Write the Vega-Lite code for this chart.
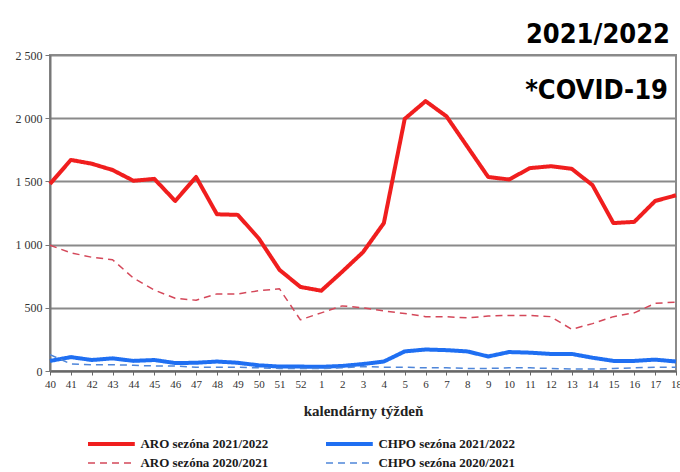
{
  "$schema": "https://vega.github.io/schema/vega-lite/v6.json",
  "width": 626,
  "height": 316,
  "autosize": {"type": "none"},
  "padding": {"left": 50, "top": 55, "right": 4, "bottom": 101},
  "background": "white",
  "config": {"view": {"stroke": "#8a8a8a", "strokeWidth": 2}, "font": "Liberation Serif"},
  "title": {"text": "2021/2022", "anchor": "end", "frame": "group", "font": "DejaVu Sans Condensed, Liberation Sans Narrow, DejaVu Sans", "fontWeight": "bold", "fontSize": 27, "color": "#000000", "offset": 0, "dx": -6},
  "data": {"values": [
    {"week": "40", "ARO sezóna 2021/2022": 1480, "CHPO sezóna 2021/2022": 80, "ARO sezóna 2020/2021": 995, "CHPO sezóna 2020/2021": 130},
    {"week": "41", "ARO sezóna 2021/2022": 1670, "CHPO sezóna 2021/2022": 110, "ARO sezóna 2020/2021": 935, "CHPO sezóna 2020/2021": 55},
    {"week": "42", "ARO sezóna 2021/2022": 1640, "CHPO sezóna 2021/2022": 87, "ARO sezóna 2020/2021": 900, "CHPO sezóna 2020/2021": 50},
    {"week": "43", "ARO sezóna 2021/2022": 1590, "CHPO sezóna 2021/2022": 100, "ARO sezóna 2020/2021": 880, "CHPO sezóna 2020/2021": 50},
    {"week": "44", "ARO sezóna 2021/2022": 1505, "CHPO sezóna 2021/2022": 80, "ARO sezóna 2020/2021": 735, "CHPO sezóna 2020/2021": 45},
    {"week": "45", "ARO sezóna 2021/2022": 1520, "CHPO sezóna 2021/2022": 87, "ARO sezóna 2020/2021": 640, "CHPO sezóna 2020/2021": 40},
    {"week": "46", "ARO sezóna 2021/2022": 1345, "CHPO sezóna 2021/2022": 63, "ARO sezóna 2020/2021": 575, "CHPO sezóna 2020/2021": 40},
    {"week": "47", "ARO sezóna 2021/2022": 1535, "CHPO sezóna 2021/2022": 65, "ARO sezóna 2020/2021": 560, "CHPO sezóna 2020/2021": 30},
    {"week": "48", "ARO sezóna 2021/2022": 1240, "CHPO sezóna 2021/2022": 75, "ARO sezóna 2020/2021": 610, "CHPO sezóna 2020/2021": 30},
    {"week": "49", "ARO sezóna 2021/2022": 1235, "CHPO sezóna 2021/2022": 65, "ARO sezóna 2020/2021": 610, "CHPO sezóna 2020/2021": 30},
    {"week": "50", "ARO sezóna 2021/2022": 1050, "CHPO sezóna 2021/2022": 45, "ARO sezóna 2020/2021": 635, "CHPO sezóna 2020/2021": 25},
    {"week": "51", "ARO sezóna 2021/2022": 800, "CHPO sezóna 2021/2022": 35, "ARO sezóna 2020/2021": 650, "CHPO sezóna 2020/2021": 20},
    {"week": "52", "ARO sezóna 2021/2022": 665, "CHPO sezóna 2021/2022": 35, "ARO sezóna 2020/2021": 405, "CHPO sezóna 2020/2021": 20},
    {"week": "1", "ARO sezóna 2021/2022": 635, "CHPO sezóna 2021/2022": 33, "ARO sezóna 2020/2021": 460, "CHPO sezóna 2020/2021": 20},
    {"week": "2", "ARO sezóna 2021/2022": 785, "CHPO sezóna 2021/2022": 40, "ARO sezóna 2020/2021": 515, "CHPO sezóna 2020/2021": 25},
    {"week": "3", "ARO sezóna 2021/2022": 940, "CHPO sezóna 2021/2022": 55, "ARO sezóna 2020/2021": 500, "CHPO sezóna 2020/2021": 35},
    {"week": "4", "ARO sezóna 2021/2022": 1170, "CHPO sezóna 2021/2022": 75, "ARO sezóna 2020/2021": 475, "CHPO sezóna 2020/2021": 30},
    {"week": "5", "ARO sezóna 2021/2022": 1995, "CHPO sezóna 2021/2022": 155, "ARO sezóna 2020/2021": 455, "CHPO sezóna 2020/2021": 30},
    {"week": "6", "ARO sezóna 2021/2022": 2135, "CHPO sezóna 2021/2022": 170, "ARO sezóna 2020/2021": 430, "CHPO sezóna 2020/2021": 25},
    {"week": "7", "ARO sezóna 2021/2022": 2015, "CHPO sezóna 2021/2022": 165, "ARO sezóna 2020/2021": 430, "CHPO sezóna 2020/2021": 25},
    {"week": "8", "ARO sezóna 2021/2022": 1775, "CHPO sezóna 2021/2022": 155, "ARO sezóna 2020/2021": 420, "CHPO sezóna 2020/2021": 20},
    {"week": "9", "ARO sezóna 2021/2022": 1535, "CHPO sezóna 2021/2022": 115, "ARO sezóna 2020/2021": 435, "CHPO sezóna 2020/2021": 20},
    {"week": "10", "ARO sezóna 2021/2022": 1515, "CHPO sezóna 2021/2022": 150, "ARO sezóna 2020/2021": 440, "CHPO sezóna 2020/2021": 25},
    {"week": "11", "ARO sezóna 2021/2022": 1605, "CHPO sezóna 2021/2022": 145, "ARO sezóna 2020/2021": 440, "CHPO sezóna 2020/2021": 25},
    {"week": "12", "ARO sezóna 2021/2022": 1620, "CHPO sezóna 2021/2022": 135, "ARO sezóna 2020/2021": 430, "CHPO sezóna 2020/2021": 20},
    {"week": "13", "ARO sezóna 2021/2022": 1600, "CHPO sezóna 2021/2022": 135, "ARO sezóna 2020/2021": 330, "CHPO sezóna 2020/2021": 15},
    {"week": "14", "ARO sezóna 2021/2022": 1470, "CHPO sezóna 2021/2022": 105, "ARO sezóna 2020/2021": 375, "CHPO sezóna 2020/2021": 15},
    {"week": "15", "ARO sezóna 2021/2022": 1170, "CHPO sezóna 2021/2022": 80, "ARO sezóna 2020/2021": 430, "CHPO sezóna 2020/2021": 20},
    {"week": "16", "ARO sezóna 2021/2022": 1180, "CHPO sezóna 2021/2022": 80, "ARO sezóna 2020/2021": 460, "CHPO sezóna 2020/2021": 25},
    {"week": "17", "ARO sezóna 2021/2022": 1345, "CHPO sezóna 2021/2022": 90, "ARO sezóna 2020/2021": 535, "CHPO sezóna 2020/2021": 30},
    {"week": "18", "ARO sezóna 2021/2022": 1390, "CHPO sezóna 2021/2022": 75, "ARO sezóna 2020/2021": 545, "CHPO sezóna 2020/2021": 30}
  ]},
  "layer": [
    {
      "transform": [{"fold": ["ARO sezóna 2021/2022", "CHPO sezóna 2021/2022", "ARO sezóna 2020/2021", "CHPO sezóna 2020/2021"], "as": ["series", "value"]}],
      "mark": {"type": "line", "strokeJoin": "round", "strokeCap": "butt"},
      "encoding": {
        "x": {
          "field": "week", "type": "ordinal",
          "scale": {"domain": ["40","41","42","43","44","45","46","47","48","49","50","51","52","1","2","3","4","5","6","7","8","9","10","11","12","13","14","15","16","17","18"], "padding": 0},
          "axis": {"labelAngle": 0, "labelFontSize": 11, "labelColor": "#333333", "labelPadding": 3, "tickSize": 4, "tickColor": "#666666", "domainColor": "#666666", "domainWidth": 2, "grid": false, "title": "kalendárny týždeň", "titleFontSize": 15, "titleFontWeight": "bold", "titleColor": "#222222", "titlePadding": 14, "labelOverlap": false}
        },
        "y": {
          "field": "value", "type": "quantitative",
          "scale": {"domain": [0, 2500], "nice": false},
          "axis": {"values": [0, 500, 1000, 1500, 2000, 2500], "labelExpr": "replace(format(datum.value, ','), ',', ' ')", "labelFontSize": 12, "labelColor": "#333333", "labelPadding": 3, "tickSize": 5, "tickColor": "#777777", "domainColor": "#777777", "domainWidth": 2, "grid": true, "gridColor": "#8a8a8a", "gridWidth": 2, "title": null}
        },
        "color": {
          "field": "series", "type": "nominal",
          "scale": {"domain": ["ARO sezóna 2021/2022", "CHPO sezóna 2021/2022", "ARO sezóna 2020/2021", "CHPO sezóna 2020/2021"], "range": ["#f01e1e", "#1f6ff2", "#d4485a", "#4f86d9"]},
          "legend": {"orient": "none", "direction": "horizontal", "legendX": 38, "legendY": 378, "columns": 2, "title": null, "padding": 0, "symbolType": "M-2.6,0H2.6", "symbolSize": 324, "symbolOffset": 12.4, "labelFont": "Liberation Serif", "labelFontWeight": "bold", "labelFontSize": 13, "labelColor": "#1a1a1a", "labelOffset": 18, "columnPadding": 48, "rowPadding": 1}
        },
        "strokeDash": {
          "field": "series", "type": "nominal",
          "scale": {"domain": ["ARO sezóna 2021/2022", "CHPO sezóna 2021/2022", "ARO sezóna 2020/2021", "CHPO sezóna 2020/2021"], "range": [[1, 0], [1, 0], [7, 5], [7, 5]]}
        },
        "strokeWidth": {
          "field": "series", "type": "nominal",
          "scale": {"type": "ordinal", "domain": ["ARO sezóna 2021/2022", "CHPO sezóna 2021/2022", "ARO sezóna 2020/2021", "CHPO sezóna 2020/2021"], "range": [4, 4, 1.5, 1.5]}
        }
      }
    },
    {
      "data": {"values": [{"label": "*COVID-19"}]},
      "mark": {"type": "text", "align": "right", "baseline": "alphabetic", "font": "DejaVu Sans Condensed, Liberation Sans Narrow, DejaVu Sans", "fontWeight": "bold", "fontSize": 27, "fill": "#000000", "dx": -8},
      "encoding": {
        "x": {"datum": "18", "type": "ordinal"},
        "y": {"datum": 2150, "type": "quantitative"},
        "text": {"field": "label"}
      }
    }
  ]
}
